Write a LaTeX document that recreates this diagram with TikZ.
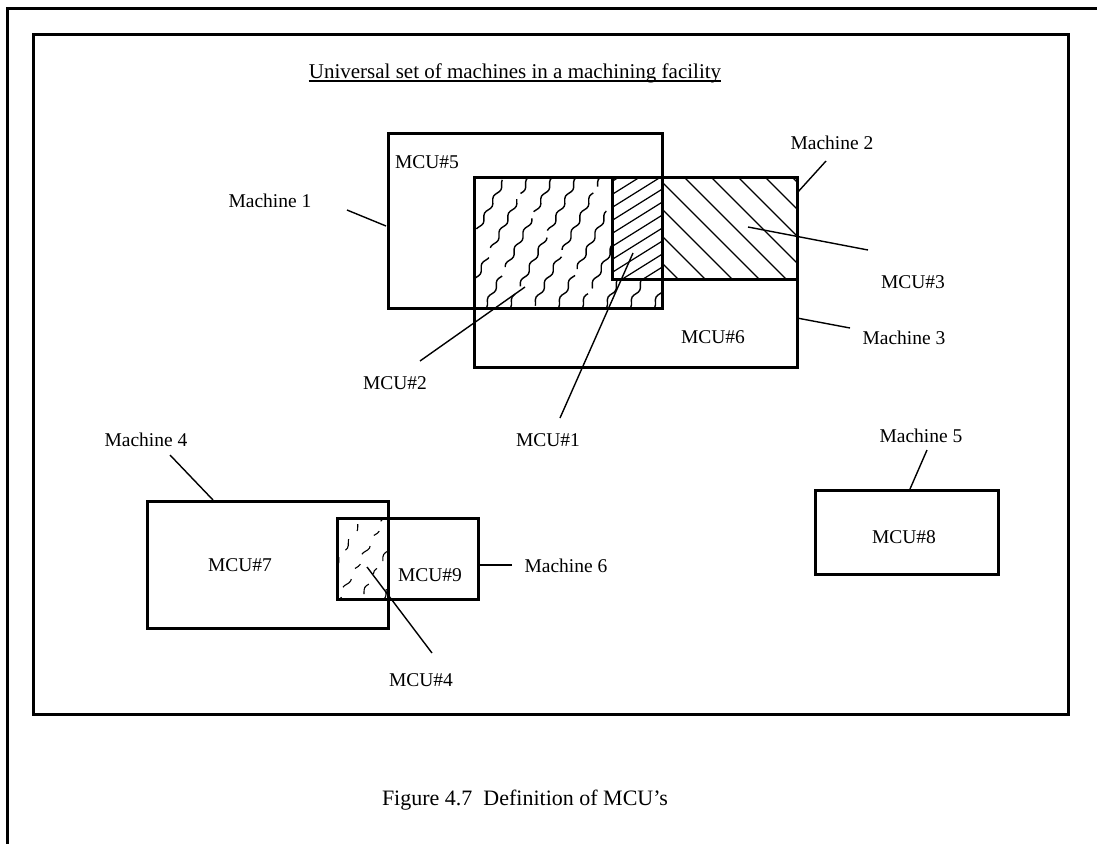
\documentclass[tikz,border=0pt]{standalone}
\usepackage{fontspec}
\setmainfont{Liberation Serif}
\usetikzlibrary{decorations.pathmorphing}
\begin{document}
\begin{tikzpicture}[x=1pt,y=-1pt,
  frame/.style={line width=3pt},
  box/.style={line width=3pt},
  lead/.style={line width=1.4pt},
  lbl/.style={font=\fontsize{19.5}{22}\selectfont, inner sep=0pt},
  hatch/.style={line width=1.2pt},
  wavy/.style={line width=1.4pt, decorate, decoration={snake, amplitude=1.8pt, segment length=19pt}},
]
\useasboundingbox (0,0) rectangle (1097,844);

% outer and inner frames
\coordinate (o1) at (1097,8);
\coordinate (o2) at (7,8);
\coordinate (o3) at (7,844);
\draw[frame] (o1) -- (o2) -- (o3);
\draw[frame] (33,34) rectangle (1068,714);

% title and caption
\node[font=\fontsize{21}{24}\selectfont, inner sep=0pt, anchor=base] (title) at (515,78)
  {Universal set of machines in a machining facility};
\draw[line width=1.6pt] ([yshift=-3pt]title.base west) -- ([yshift=-3pt]title.base east);
\node[font=\fontsize{22}{26}\selectfont, inner sep=0pt, anchor=base] (cap) at (525,805)
  {Figure 4.7\ \ Definition of MCU's};

% ---- hatching: MCU#3 (machine 2 only)
\begin{scope}
  \clip (662,177) rectangle (797,279);
  \foreach \c in {372,399,...,640} \draw[hatch] (\c,0) -- (\c+400,400);
\end{scope}
% ---- hatching: MCU#1 (all three)
\begin{scope}
  \clip (612,177) rectangle (662,279);
  \foreach \c in {176,189,...,320} \draw[hatch] (600,\c) -- (680,\c-50);
\end{scope}
% ---- wavy hatching: MCU#2
\begin{scope}
  \clip (474,177) -- (612,177) -- (612,279) -- (662,279) -- (662,308) -- (474,308) -- cycle;
  \foreach \x [count=\i] in {430,454,...,700}
    \draw[wavy, dash pattern=on 70pt off 8pt on 45pt off 10pt on 60pt off 7pt, dash phase=\i*23pt]
      (\x,320) -- (\x+90,150);
\end{scope}
% ---- wavy hatching: MCU#4
\begin{scope}
  \clip (337,518) rectangle (388,599);
  \foreach \x [count=\i] in {310,332,...,400}
    \draw[wavy, line width=1.1pt, dash pattern=on 12pt off 12pt on 7pt off 10pt, dash phase=\i*7pt]
      (\x,610) -- (\x+60,505);
\end{scope}

% ---- machine boxes
\draw[box] (388,133) rectangle (662,308);   % machine 1
\draw[box] (474,177) rectangle (797,367);   % machine 3
\draw[box] (612,177) rectangle (797,279);   % machine 2
\draw[box] (147,501) rectangle (388,628);   % machine 4
\draw[box] (337,518) rectangle (478,599);   % machine 6
\draw[box] (815,490) rectangle (998,574);   % machine 5

% ---- labels
\node[lbl] (mcu5) at (427,162) {MCU\#5};
\node[lbl] (mcu6) at (713,337) {MCU\#6};
\node[lbl] (mcu7) at (240,565) {MCU\#7};
\node[lbl] (mcu9) at (430,575) {MCU\#9};
\node[lbl] (mcu8) at (904,537) {MCU\#8};
\node[lbl] (mcu2) at (395,383) {MCU\#2};
\node[lbl] (mcu1) at (548,440) {MCU\#1};
\node[lbl] (mcu3) at (913,282) {MCU\#3};
\node[lbl] (mcu4) at (421,680) {MCU\#4};
\node[lbl] (m1) at (270,201) {Machine 1};
\node[lbl] (m2) at (832,143) {Machine 2};
\node[lbl] (m3) at (904,338) {Machine 3};
\node[lbl] (m4) at (146,440) {Machine 4};
\node[lbl] (m5) at (921,436) {Machine 5};
\node[lbl] (m6) at (566,566) {Machine 6};

% ---- leader lines
\coordinate (a1) at (347,210); \coordinate (b1) at (386,226);
\coordinate (a2) at (826,161); \coordinate (b2) at (797,193);
\coordinate (a3) at (850,328); \coordinate (b3) at (797,318);
\coordinate (a4) at (170,455); \coordinate (b4) at (213,500);
\coordinate (a5) at (927,450); \coordinate (b5) at (910,489);
\coordinate (a6) at (512,565); \coordinate (b6) at (480,565);
\coordinate (c1) at (560,418); \coordinate (d1) at (633,253);
\coordinate (c2) at (420,361); \coordinate (d2) at (525,287);
\coordinate (c3) at (868,250); \coordinate (d3) at (748,227);
\coordinate (c4) at (432,653); \coordinate (d4) at (367,567);
\draw[lead] (a1) -- (b1);
\draw[lead] (a2) -- (b2);
\draw[lead] (a3) -- (b3);
\draw[lead] (a4) -- (b4);
\draw[lead] (a5) -- (b5);
\draw[lead] (a6) -- (b6);
\draw[lead] (c1) -- (d1);
\draw[lead] (c2) -- (d2);
\draw[lead] (c3) -- (d3);
\draw[lead] (c4) -- (d4);
\end{tikzpicture}
\end{document}
